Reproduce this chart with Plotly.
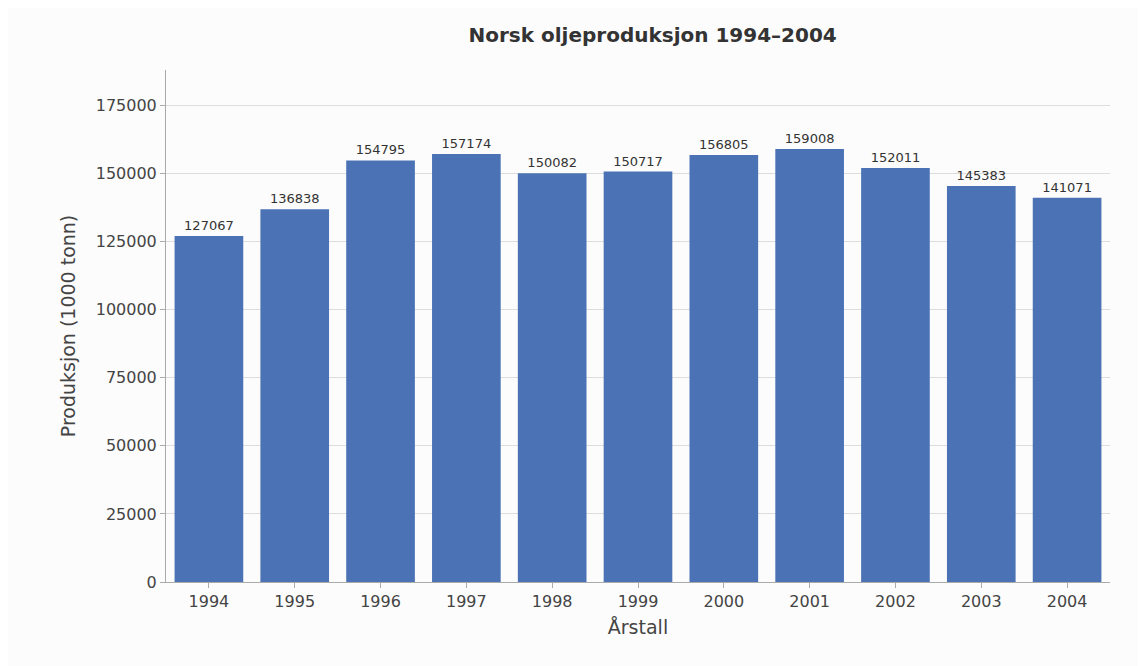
import plotly.graph_objects as go

years = ["1994", "1995", "1996", "1997", "1998", "1999", "2000", "2001", "2002", "2003", "2004"]
production = [127067, 136838, 154795, 157174, 150082, 150717, 156805, 159008, 152011, 145383, 141071]

fig = go.Figure(
    go.Bar(
        x=years,
        y=production,
        marker=dict(color="#4a72b5", line=dict(width=0)),
        text=[str(v) for v in production],
        textposition="outside",
        textfont=dict(size=13, color="#333333"),
        cliponaxis=False,
        width=0.8,
    )
)

fig.update_layout(
    width=1146,
    height=666,
    margin=dict(l=158, r=44, t=62, b=92),
    paper_bgcolor="#fcfcfc",
    plot_bgcolor="#fcfcfc",
    font=dict(family="DejaVu Sans", size=16, color="#444444"),
    title=dict(
        text="<b>Norsk oljeproduksjon 1994–2004</b>",
        x=0.5625, xanchor="center", y=0.96, yanchor="middle",
        font=dict(size=20, color="#333333"),
    ),
    xaxis=dict(
        title=dict(text="Årstall", standoff=10),
        showline=True, linecolor="#aaaaaa", ticks="outside",
        tickcolor="#aaaaaa", ticklen=5, showgrid=False,
    ),
    yaxis=dict(
        title=dict(text="Produksjon (1000 tonn)"),
        range=[0, 188000], dtick=25000, tickformat="d",
        showline=True, linecolor="#aaaaaa", ticks="outside",
        tickcolor="#aaaaaa", ticklen=5,
        showgrid=True, gridcolor="#dddddd", zeroline=False,
    ),
    showlegend=False,
)

fig.write_html("out.html")
